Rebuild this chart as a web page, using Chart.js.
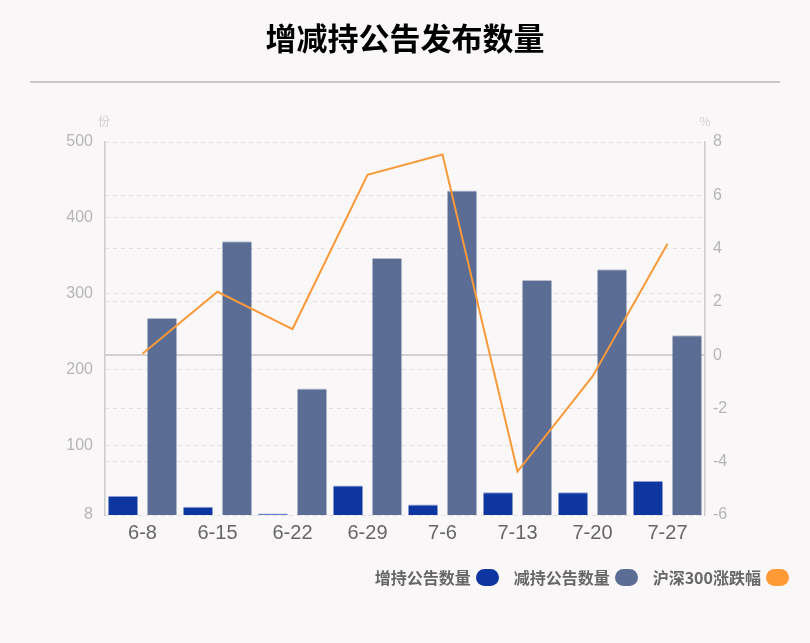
<!DOCTYPE html>
<html>
<head>
<meta charset="utf-8">
<script src="https://cdn.jsdelivr.net/npm/chart.js@4/dist/chart.umd.min.js"></script>
<style>
  html, body { margin: 0; padding: 0; background: #faf7f8; }
  #wrap { position: relative; width: 810px; height: 643px; overflow: hidden; }
  #c { position: absolute; left: 0; top: 0; }
  #title { position: absolute; left: 0; top: 17px; width: 810px; text-align: center;
    font: bold 31px "Noto Sans CJK SC", sans-serif; color: #000; line-height: 40px; }
  #rule { position: absolute; left: 30px; top: 81px; width: 750px; height: 2px; background: #c8c8c8; }
  #legend { position: absolute; right: 21px; top: 566px; display: flex; align-items: center; }
  .item { display: flex; align-items: center; margin-left: 15px;
    font: bold 16px "Noto Sans CJK SC", sans-serif; color: #666; line-height: 22px; }
  .sw { width: 23px; height: 17px; border-radius: 8.5px; margin-left: 5px; }
</style>
</head>
<body>
<div id="wrap">
  <canvas id="c" width="810" height="643"></canvas>
  <div id="title">增减持公告发布数量</div>
  <div id="rule"></div>
  <div id="legend"></div>
</div>
<script>
const categories = ['6-8', '6-15', '6-22', '6-29', '7-6', '7-13', '7-20', '7-27'];
const increaseCounts = [33, 19, 10, 47, 22, 38, 38, 53];
const decreaseCounts = [268, 369, 175, 347, 436, 318, 332, 245];
const hs300Change = [0.05, 2.38, 0.98, 6.77, 7.53, -4.37, -0.80, 4.18];
const leftTicks = [8, 100, 200, 300, 400, 500];
const seriesNames = ['增持公告数量', '减持公告数量', '沪深300涨跌幅'];
const seriesColors = ['#0d36a1', '#5b6d95', '#ff9a35'];

const legend = document.getElementById('legend');
seriesNames.forEach((n, i) => {
  const d = document.createElement('div');
  d.className = 'item';
  d.innerHTML = '<span>' + n + '</span><span class="sw" style="background:' + seriesColors[i] + '"></span>';
  legend.appendChild(d);
});

const unitLabels = {
  id: 'unitLabels',
  afterDraw(chart) {
    const ctx = chart.ctx;
    ctx.save();
    ctx.font = '12px "Noto Sans CJK SC", sans-serif';
    ctx.fillStyle = '#cfcfcf';
    ctx.textAlign = 'center';
    ctx.textBaseline = 'middle';
    ctx.fillText('份', chart.chartArea.left - 1, 121);
    ctx.fillText('%', chart.chartArea.right, 121);
    ctx.restore();
  }
};

new Chart(document.getElementById('c'), {
  data: {
    labels: categories,
    datasets: [
      { type: 'bar', label: seriesNames[0], data: increaseCounts, yAxisID: 'y',
        backgroundColor: seriesColors[0], borderColor: '#8a9ccf',
        borderWidth: { top: 1, left: 0, right: 0, bottom: 0 }, borderSkipped: 'bottom',
        categoryPercentage: 1.04, barPercentage: 0.754, order: 1 },
      { type: 'bar', label: seriesNames[1], data: decreaseCounts, yAxisID: 'y',
        backgroundColor: seriesColors[1], borderColor: '#b6bdcd',
        borderWidth: { top: 1, left: 0, right: 0, bottom: 0 }, borderSkipped: 'bottom',
        categoryPercentage: 1.04, barPercentage: 0.754, order: 1 },
      { type: 'line', label: seriesNames[2], data: hs300Change, yAxisID: 'y1',
        borderColor: '#f99a3a', borderWidth: 2, pointRadius: 0, tension: 0, fill: false, order: 0 }
    ]
  },
  options: {
    responsive: false,
    animation: false,
    layout: { padding: { top: 142, left: 0, right: 0, bottom: 0 } },
    plugins: { legend: { display: false }, tooltip: { enabled: false }, title: { display: false } },
    scales: {
      x: {
        offset: true,
        grid: { display: false, drawTicks: false },
        border: { display: false },
        ticks: { color: '#666', font: { size: 20, family: 'Liberation Sans' }, padding: 6 },
        afterFit(s) { s.height = 128; }
      },
      y: {
        position: 'left', min: 8, max: 500,
        afterBuildTicks(s) { s.ticks = leftTicks.map(v => ({ value: v })); },
        grid: { color: '#e4e0e0', lineWidth: 1, drawTicks: false },
        border: { display: true, color: '#cccccc', width: 1.5, dash: [4, 4] },
        ticks: { color: '#b5b5b5', font: { size: 16, family: 'Liberation Sans' }, padding: 12 },
        afterFit(s) { s.width = 105; }
      },
      y1: {
        position: 'right', min: -6, max: 8,
        ticks: { stepSize: 2, color: '#b5b5b5', font: { size: 16, family: 'Liberation Sans' }, padding: 8 },
        grid: {
          drawTicks: false,
          color: c => (c.tick && c.tick.value === 0) ? '#d2d0d0' : '#e4e0e0',
          lineWidth: c => (c.tick && c.tick.value === 0) ? 2 : 1
        },
        border: { display: true, color: '#cccccc', width: 1.5,
          dash: c => (c.tick && c.tick.value === 0) ? [] : [4, 4] },
        afterFit(s) { s.width = 105; }
      }
    }
  },
  plugins: [unitLabels]
});
</script>
</body>
</html>
